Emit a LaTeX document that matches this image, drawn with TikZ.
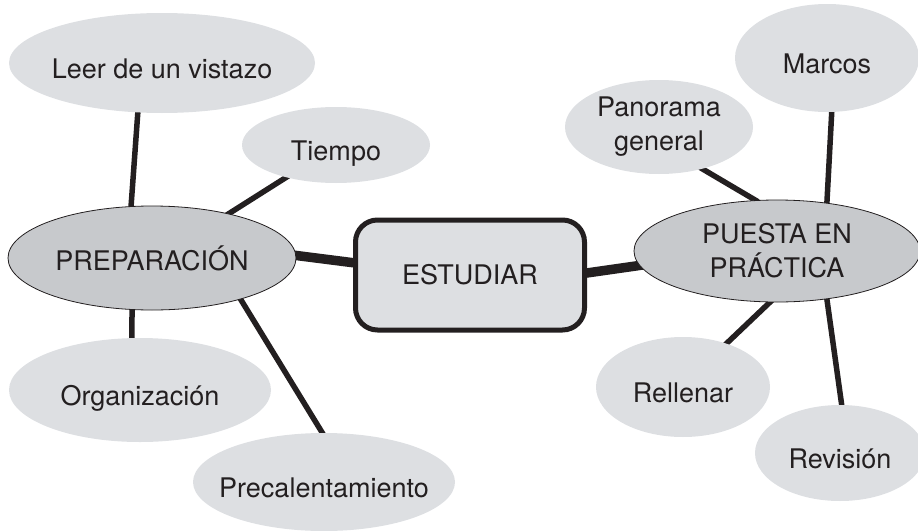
\documentclass[tikz,border=0pt]{standalone}
\usepackage{fontspec}
\setmainfont{TeX Gyre Heros}
\usetikzlibrary{positioning,shapes.geometric,backgrounds}
\definecolor{leafgray}{RGB}{221,223,226}
\definecolor{maingray}{RGB}{199,201,204}
\definecolor{inkgray}{RGB}{35,31,32}

\begin{document}
\begin{tikzpicture}[on grid,every node/.style={font=\fontsize{27}{34}\selectfont,
	text=inkgray},
	leaf/.style={ellipse,fill=leafgray,inner sep=0pt,text height=31pt,text depth=0pt},
	leaftwo/.style={ellipse,fill=leafgray,inner sep=0pt,align=center},
	topic/.style={ellipse,draw=inkgray,line width=0.8pt,fill=maingray,inner sep=0pt,
	align=center},
	hub/.style={rectangle,draw=inkgray,line width=5pt,rounded corners=22pt,fill=leafgray,
	minimum width=229pt,minimum height=110pt},
	link/.style={line width=5.5pt,inkgray,shorten <=-3pt,shorten >=-3pt},
	bond/.style={line width=9.5pt,inkgray,shorten <=-4pt,shorten >=-4pt}]
	\useasboundingbox (0,0) rectangle (918pt,-530pt);
	% create the nodes.
	\node (estudiar) [hub] at (470pt,-275pt) {ESTUDIAR};
	\node (prep) [topic,minimum width=288pt,minimum height=104pt,
	above left=17pt and 318pt of estudiar] {PREPARACIÓN};
	\node (practica) [topic,minimum width=286pt,minimum height=102pt,
	above right=24pt and 307pt of estudiar] {PUESTA EN\\PRÁCTICA};
	\node (leer) [leaf,inner xsep=-3pt,minimum width=306pt,minimum height=100pt,
	above right=195pt and 10pt of prep] {Leer de un vistazo};
	\node (tiempo) [leaf,minimum width=188pt,minimum height=76pt,
	above right=113pt and 184pt of prep] {Tiempo};
	\node (orga) [leaf,minimum width=262pt,minimum height=104pt,
	below left=132pt and 12pt of prep] {Organización};
	\node (precal) [leaf,inner xsep=-13pt,minimum width=262pt,minimum height=98pt,
	below right=224pt and 172pt of prep] {Precalentamiento};
	\node (panorama) [leaftwo,minimum width=188pt,minimum height=94pt,
	above left=124pt and 118pt of practica] {Panorama\\general};
	\node (marcos) [leaf,minimum width=184pt,minimum height=108pt,
	above right=193pt and 50pt of practica] {Marcos};
	\node (rellenar) [leaf,minimum width=174pt,minimum height=100pt,
	below left=136pt and 94pt of practica] {Rellenar};
	\node (revision) [leaf,minimum width=170pt,minimum height=96pt,
	below right=202pt and 63pt of practica] {Revisión};

	% connect the nodes
	\begin{scope}[on background layer]
	\draw[bond] (prep.1) -- (estudiar.174);
	\draw[bond] (estudiar.1.5) -- (practica.186);
	\draw[link] (leer.244) -- (prep.112);
	\draw[link] (tiempo.213) -- (prep.30);
	\draw[link] (orga.99) -- (prep.249);
	\draw[link] (precal.92) -- (prep.335);
	\draw[link] (panorama.316) -- (practica.113);
	\draw[link] (marcos.275) -- (practica.44);
	\draw[link] (rellenar.45) -- (practica.262);
	\draw[link] (revision.88) -- (practica.316);
	\end{scope}
\end{tikzpicture}
\end{document}
